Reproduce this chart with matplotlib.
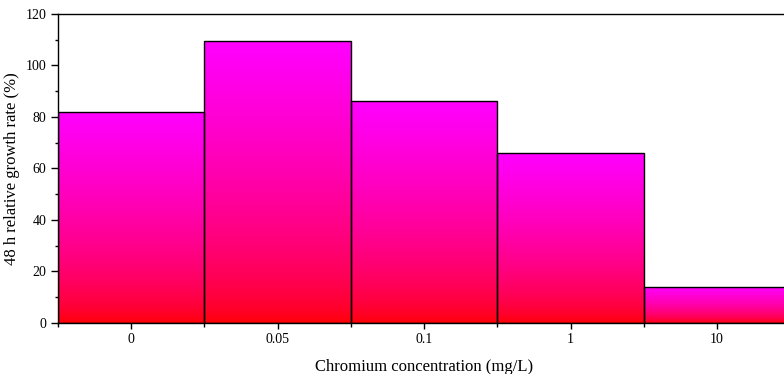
import numpy as np
import matplotlib.pyplot as plt
from matplotlib.colors import LinearSegmentedColormap
from matplotlib.ticker import MultipleLocator, FixedLocator

concentrations = ['0', '0.05', '0.1', '1', '10']
growth_rate = [82, 109.5, 86.3, 66, 14]

plt.rcParams['font.family'] = ['Liberation Serif', 'DejaVu Serif']

fig = plt.figure(figsize=(7.84, 3.74), dpi=100)
ax = fig.add_axes([0.074, 0.1364, 0.934, 0.8262])

x = np.arange(len(concentrations))
bars = ax.bar(x, growth_rate, width=1.0, color='none', edgecolor='black', linewidth=1.0, zorder=3)

# red at the bottom of each bar fading to magenta at its top
t = np.linspace(0, 1, 256)
cols = np.stack([np.ones_like(t), np.zeros_like(t), t**0.6], axis=1)
cmap = LinearSegmentedColormap.from_list('rm', cols)
grad = t.reshape(-1, 1)
for b in bars:
	x0, y0 = b.get_x(), b.get_y()
	x1, y1 = x0 + b.get_width(), y0 + b.get_height()
	im = ax.imshow(grad, cmap=cmap, origin='lower', aspect='auto',
		extent=[x0, x1, y0, y1], zorder=2)
	im.set_clip_path(b)

ax.set_xlim(-0.5, len(concentrations) - 0.5)
ax.set_ylim(0, 120)
ax.set_xticks(x)
ax.set_xticklabels(concentrations)
ax.xaxis.set_minor_locator(FixedLocator(np.arange(-0.5, len(concentrations), 1.0)))
ax.yaxis.set_major_locator(MultipleLocator(20))
ax.yaxis.set_minor_locator(MultipleLocator(10))

ax.tick_params(which='both', direction='out', labelsize=10, width=1.0)
ax.tick_params(axis='y', which='major', length=5)
ax.tick_params(axis='y', which='minor', length=2.5)
ax.tick_params(axis='x', which='major', length=4)
ax.tick_params(axis='x', which='minor', length=3)
ax.spines['right'].set_visible(False)
for s in ['left', 'bottom', 'top']:
	ax.spines[s].set_linewidth(1.0)

ax.set_xlabel('Chromium concentration (mg/L)', fontsize=12, labelpad=9)
ax.set_ylabel('48 h relative growth rate (%)', fontsize=12, labelpad=4)

fig.savefig('out.png', dpi=100)
